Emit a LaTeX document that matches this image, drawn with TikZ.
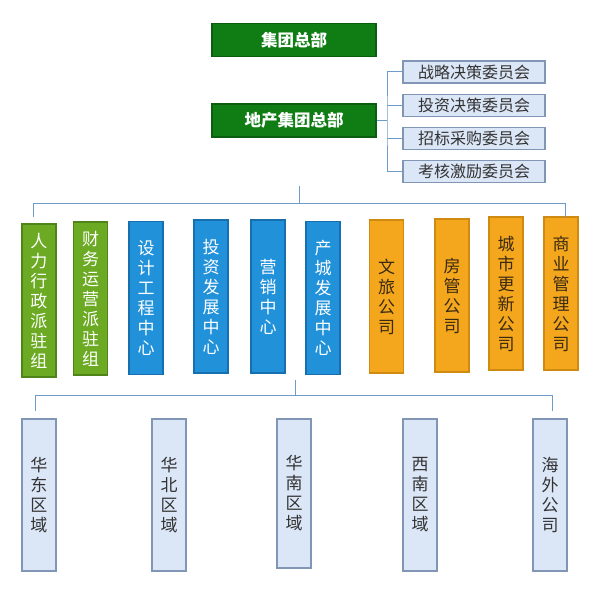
\documentclass[tikz,border=0pt]{standalone}
\usepackage{fontspec}
\setmainfont{Noto Sans CJK SC}
\usetikzlibrary{positioning}

\definecolor{hqgreen}{HTML}{0F7D14}
\definecolor{hqedge}{HTML}{0B5E10}
\definecolor{staffgreen}{HTML}{6BAA22}
\definecolor{staffedge}{HTML}{4E8418}
\definecolor{hubblue}{HTML}{2191DA}
\definecolor{hubedge}{HTML}{176FAE}
\definecolor{firmorange}{HTML}{F4A71C}
\definecolor{firmedge}{HTML}{CF8A12}
\definecolor{firmtext}{HTML}{3A2A12}
\definecolor{boardfill}{HTML}{DBE6F7}
\definecolor{boardedge}{HTML}{8096B4}
\definecolor{textgray}{HTML}{333333}
\definecolor{linkblue}{HTML}{6F9BCB}

\begin{document}
\begin{tikzpicture}[x=1pt,y=-1pt,node distance=10pt,
    link/.style={draw=linkblue,line width=1pt},
    hq node/.style={draw=hqedge,fill=hqgreen,line width=1.2pt,minimum width=164pt,
                    minimum height=33pt,text=white,font=\fontsize{16.5}{18}\selectfont\bfseries},
    board/.style={draw=boardedge,fill=boardfill,line width=1.2pt,minimum width=142pt,
                  minimum height=22pt,inner sep=0pt,text=textgray,font=\fontsize{16}{18}\selectfont},
    unit/.style={line width=1.5pt,minimum width=34pt,minimum height=153pt,inner sep=0pt,
                 align=center,font=\fontsize{17}{20}\selectfont},
    staff/.style={unit,draw=staffedge,fill=staffgreen,text=white},
    hub/.style={unit,draw=hubedge,fill=hubblue,text=white},
    firm/.style={unit,draw=firmedge,fill=firmorange,text=firmtext},
    region/.style={unit,draw=boardedge,fill=boardfill,text=textgray,minimum height=152pt}]

  \useasboundingbox (0,0) rectangle (600,594);

  % headquarters
  \node[hq node] (hq) at (294,40) {集团总部};
  \node[hq node] (dc) at (294,120.5) {地产集团总部};

  % committees
  \node[board] (c1) at (474,72) {战略决策委员会};
  \node[board] (c2) [below=of c1] {投资决策委员会};
  \node[board] (c3) [below=of c2] {招标采购委员会};
  \node[board] (c4) [below=of c3] {考核激励委员会};

  \coordinate (br) at (387,120.5);
  \draw[link] (dc.east) -- (br);
  \draw[link] (c1.west) -| (br) |- (c4.west);
  \draw[link] (c2.west) -- (c2.west -| br);
  \draw[link] (c3.west) -- (c3.west -| br);

  % functional units
  \node[staff] (u1)  at (39,300.5)  {人\\力\\行\\政\\派\\驻\\组};
  \node[staff] (u2)  at (90.5,298.5) {财\\务\\运\\营\\派\\驻\\组};
  \node[hub]   (u3)  at (146,298)   {设\\计\\工\\程\\中\\心};
  \node[hub]   (u4)  at (211,296.5) {投\\资\\发\\展\\中\\心};
  \node[hub]   (u5)  at (268,296.5) {营\\销\\中\\心};
  \node[hub]   (u6)  at (323,298)   {产\\城\\发\\展\\中\\心};
  \node[firm]  (u7)  at (386.5,296.5) {文\\旅\\公\\司};
  \node[firm]  (u8)  at (452,295.5) {房\\管\\公\\司};
  \node[firm]  (u9)  at (506,293.5) {城\\市\\更\\新\\公\\司};
  \node[firm]  (u10) at (561,293.5) {商\\业\\管\\理\\公\\司};

  \coordinate (top in)  at (299,186);
  \coordinate (top bus) at (299,203);
  \coordinate (top l)   at (33,203);
  \coordinate (top r)   at (565,203);
  \draw[link] (top in) -- (top bus);
  \draw[link] (top l) ++(0,14) -- (top l) -- (top r) -- ++(0,14);

  % regions
  \node[region] (r1) at (39,495)  {华\\东\\区\\域};
  \node[region] (r2) at (169,495) {华\\北\\区\\域};
  \node[region, minimum height=149pt] (r3) at (294,493.5) {华\\南\\区\\域};
  \node[region] (r4) at (420,495) {西\\南\\区\\域};
  \node[region] (r5) at (550,495) {海\\外\\公\\司};

  \coordinate (low in)  at (295,380);
  \coordinate (low bus) at (295,395);
  \coordinate (low l)   at (35,395);
  \coordinate (low r)   at (552,395);
  \draw[link] (low in) -- (low bus);
  \draw[link] (low l) ++(0,16) -- (low l) -- (low r) -- ++(0,16);
\end{tikzpicture}
\end{document}
